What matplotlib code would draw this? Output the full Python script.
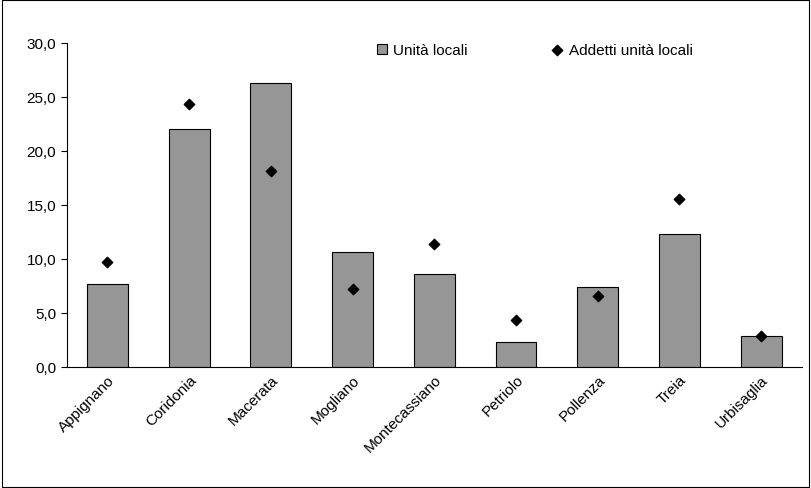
import matplotlib.pyplot as plt
import numpy as np

plt.rcParams['font.family'] = ['Liberation Sans', 'DejaVu Sans']

comuni = ['Appignano', 'Coridonia', 'Macerata', 'Mogliano', 'Montecassiano',
          'Petriolo', 'Pollenza', 'Treia', 'Urbisaglia']
unita_locali = [7.7, 22.0, 26.3, 10.6, 8.6, 2.3, 7.4, 12.3, 2.8]
addetti = [9.7, 24.3, 18.1, 7.2, 11.4, 4.3, 6.5, 15.5, 2.8]

fig = plt.figure(figsize=(8.11, 4.89), dpi=100)
ax = fig.add_axes([0.082, 0.248, 0.907, 0.663])
fig.patches.append(plt.Rectangle((0.002, 0.002), 0.996, 0.996, transform=fig.transFigure,
                                 fill=False, ec='black', lw=0.8))

x = np.arange(len(comuni))
bars = ax.bar(x, unita_locali, width=0.5, color='#969696', edgecolor='black', lw=0.8, label='Unità locali')
pts = ax.scatter(x, addetti, marker='D', s=28, color='black', zorder=3, label='Addetti unità locali')

ax.set_xlim(-0.5, len(comuni) - 0.5)
ax.set_ylim(0, 30)
ax.set_yticks(np.arange(0, 31, 5))
ax.set_yticklabels([f'{v:.1f}'.replace('.', ',') for v in np.arange(0, 31, 5)], fontsize=11)
ax.set_xticks(x)
ax.set_xticklabels(comuni, rotation=45, ha='right', rotation_mode='anchor', fontsize=11)
ax.tick_params(axis='x', length=0, pad=4)
ax.tick_params(axis='y', direction='out', length=4)
for s in ['top', 'right']:
    ax.spines[s].set_visible(False)
ax.legend([bars, pts], ['Unità locali', 'Addetti unità locali'], loc='upper right', ncol=2,
          frameon=False, fontsize=11, bbox_to_anchor=(0.87, 1.04),
          handlelength=0.7, columnspacing=5.5, handletextpad=0.4)

fig.savefig('out.png', dpi=100)
